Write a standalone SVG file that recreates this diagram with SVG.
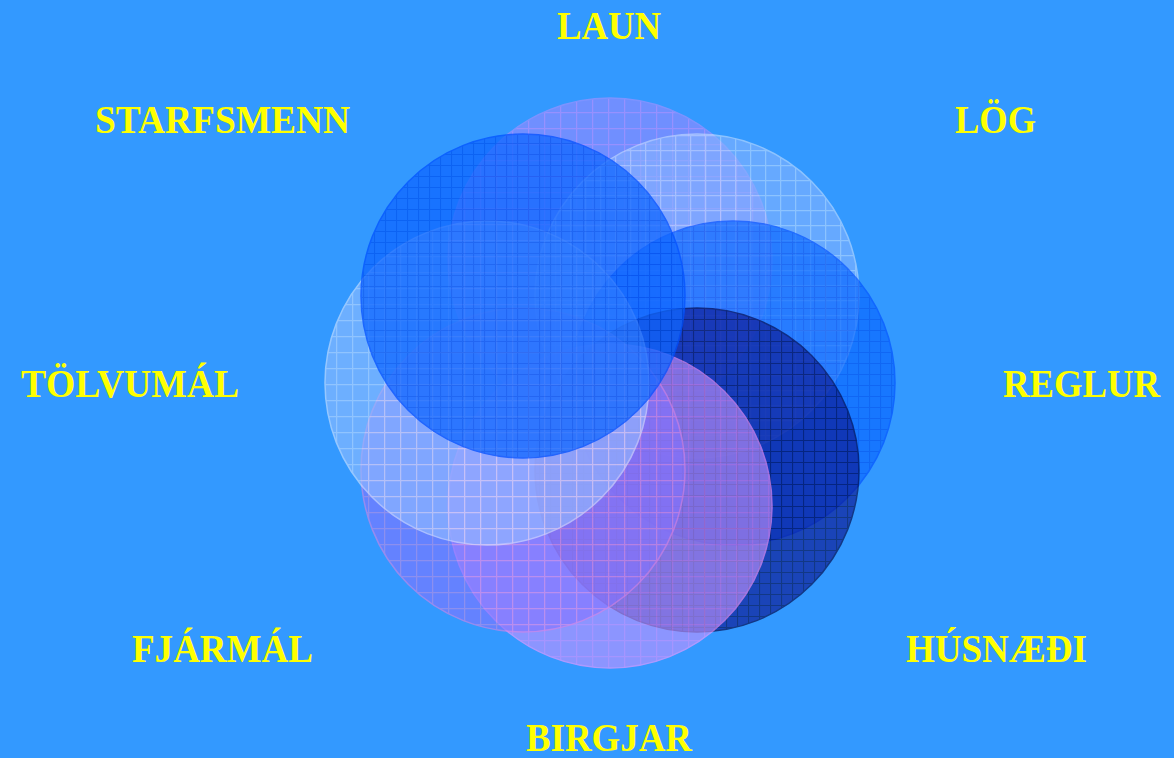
<svg xmlns="http://www.w3.org/2000/svg" width="1174" height="758" viewBox="0 0 1174 758">
<style>
.lbl{font-family:"Liberation Serif","Times New Roman",serif;font-weight:bold;font-size:40px;fill:#FFFF00}
.c{opacity:0.6;stroke-width:1.5}
.strong{opacity:0.75}
</style>
<defs>
<pattern id="pLaun" width="16" height="16" patternUnits="userSpaceOnUse"><rect width="16" height="16" fill="#998AFF"/><path d="M0 0.5H16M0.5 0V16" stroke="#D88CFF" stroke-width="1.5"/></pattern>
<pattern id="pLog" width="15" height="15" patternUnits="userSpaceOnUse"><rect width="15" height="15" fill="#88B5FF"/><path d="M0 0.5H15M0.5 0V15" stroke="#C7DFFF" stroke-width="1.5"/></pattern>
<pattern id="pReg" width="11" height="11" patternUnits="userSpaceOnUse"><rect width="11" height="11" fill="#0A68FF"/><path d="M0 0.5H11M0.5 0V11" stroke="#0050F0" stroke-width="1.2"/></pattern>
<pattern id="pHus" width="11" height="11" patternUnits="userSpaceOnUse"><rect width="11" height="11" fill="#0C1490"/><path d="M0 0.5H11M0.5 0V11" stroke="#00003F" stroke-width="1.2"/></pattern>
<pattern id="pBir" width="16" height="16" patternUnits="userSpaceOnUse"><rect width="16" height="16" fill="#C794FF"/><path d="M0 0.5H16M0.5 0V16" stroke="#F294FF" stroke-width="1.5"/></pattern>
<pattern id="pFja" width="16" height="16" patternUnits="userSpaceOnUse"><rect width="16" height="16" fill="#8573FF"/><path d="M0 0.5H16M0.5 0V16" stroke="#C88AE6" stroke-width="1.5"/></pattern>
<pattern id="pTol" width="16" height="16" patternUnits="userSpaceOnUse"><rect width="16" height="16" fill="#94BEFF"/><path d="M0 0.5H16M0.5 0V16" stroke="#CFE2FF" stroke-width="1.5"/></pattern>
<pattern id="pSta" width="11" height="11" patternUnits="userSpaceOnUse"><rect width="11" height="11" fill="#1067FF"/><path d="M0 0.5H11M0.5 0V11" stroke="#0052F0" stroke-width="1.2"/></pattern>
</defs>
<rect width="1174" height="758" fill="#3399FF"/>
<g id="laun"><circle class="c" cx="610" cy="260" r="162" fill="url(#pLaun)" stroke="#B090FF"/><text class="lbl" x="557" y="39" textLength="104" lengthAdjust="spacingAndGlyphs">LAUN</text></g>
<g id="log"><circle class="c" cx="697" cy="296" r="162" fill="url(#pLog)" stroke="#C7DFFF"/><text class="lbl" x="955" y="133" textLength="81" lengthAdjust="spacingAndGlyphs">LÖG</text></g>
<g id="reglur"><circle class="c" cx="733" cy="383" r="162" fill="url(#pReg)" stroke="#0050FF" style="opacity:0.68"/><text class="lbl" x="1003" y="397" textLength="157" lengthAdjust="spacingAndGlyphs">REGLUR</text></g>
<g id="husnaedi"><circle class="c" cx="697" cy="470" r="162" fill="url(#pHus)" stroke="#000040" style="opacity:0.63"/><text class="lbl" x="906" y="662" textLength="181" lengthAdjust="spacingAndGlyphs">HÚSNÆÐI</text></g>
<g id="birgjar"><circle class="c" cx="610" cy="506" r="162" fill="url(#pBir)" stroke="#FF99FF"/><text class="lbl" x="526" y="751" textLength="166" lengthAdjust="spacingAndGlyphs">BIRGJAR</text></g>
<g id="fjarmal"><circle class="c" cx="523" cy="470" r="162" fill="url(#pFja)" stroke="#D883E6"/><text class="lbl" x="132" y="662" textLength="181" lengthAdjust="spacingAndGlyphs">FJÁRMÁL</text></g>
<g id="tolvumal"><circle class="c" cx="487" cy="383" r="162" fill="url(#pTol)" stroke="#D8E7FF"/><text class="lbl" x="21" y="397" textLength="218" lengthAdjust="spacingAndGlyphs">TÖLVUMÁL</text></g>
<g id="starfsmenn"><circle class="c strong" cx="523" cy="296" r="162" fill="url(#pSta)" stroke="#0050FF"/><text class="lbl" x="95" y="133" textLength="255" lengthAdjust="spacingAndGlyphs">STARFSMENN</text></g>
<g id="connectors"/>
</svg>
